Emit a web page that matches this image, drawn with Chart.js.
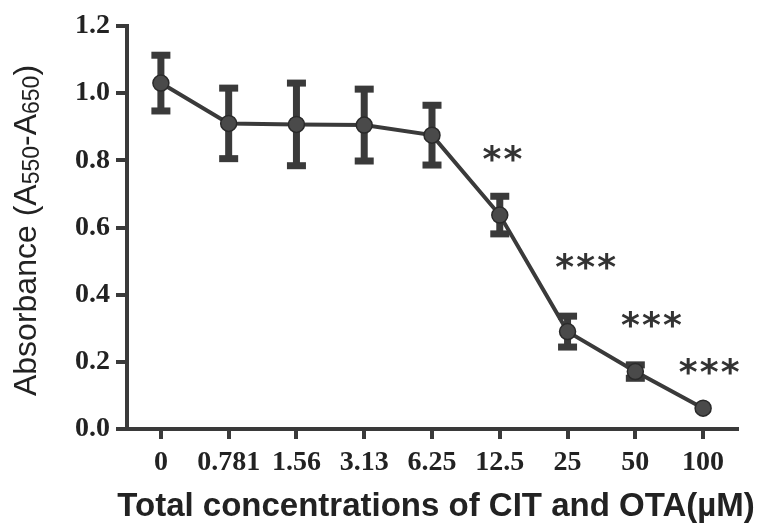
<!DOCTYPE html>
<html><head><meta charset="utf-8">
<script src="https://cdn.jsdelivr.net/npm/chart.js@4.4.0/dist/chart.umd.min.js"></script>
<style>html,body{margin:0;padding:0;background:#fff}#wrap{width:766px;height:526px;position:relative}</style>
</head><body><div id="wrap"><canvas id="c"></canvas></div>
<script>
const categories = ['0','0.781','1.56','3.13','6.25','12.5','25','50','100'];
const absorbance = [1.03, 0.91, 0.907, 0.905, 0.875, 0.637, 0.29, 0.171, 0.062];
const sd = [0.083, 0.105, 0.123, 0.107, 0.089, 0.056, 0.046, 0.02, 0];
const yTicks = [0, 0.2, 0.4, 0.6, 0.8, 1.0, 1.2];
const sigMarks = ['', '', '', '', '', '**', '***', '***', '***'];
const sigPosX = [0, 0, 0, 0, 0, 5.04, 6.27, 7.24, 8.09];
const sigPosY = [0, 0, 0, 0, 0, 0.82, 0.50, 0.325, 0.185];
const xTitle = 'Total concentrations of CIT and OTA(\u00B5M)';
const yTitleParts = [['Absorbance (A', false], ['550', true], ['-A', false], ['650', true], [')', false]];

const INK = '#3a3a3a';

const errorBars = {
  id: 'errorBars',
  beforeDatasetsDraw(chart) {
    const ctx = chart.ctx, y = chart.scales.y;
    const meta = chart.getDatasetMeta(0);
    ctx.save();
    ctx.fillStyle = INK;
    meta.data.forEach((pt, i) => {
      if (!sd[i]) return;
      const top = y.getPixelForValue(absorbance[i] + sd[i]);
      const bot = y.getPixelForValue(absorbance[i] - sd[i]);
      const x = pt.x;
      ctx.fillRect(x - 3.5, top, 7, bot - top);
      ctx.fillRect(x - 9.5, top - 3.5, 19, 7);
      ctx.fillRect(x - 9.5, bot - 3.5, 19, 7);
    });
    ctx.restore();
  }
};

const annotations = {
  id: 'annotations',
  afterDraw(chart) {
    const ctx = chart.ctx, xs = chart.scales.x, ys = chart.scales.y, ca = chart.chartArea;
    ctx.save();
    ctx.fillStyle = '#333';
    ctx.font = 'bold 36px "DejaVu Sans"';
    ctx.textAlign = 'left';
    ctx.textBaseline = 'alphabetic';
    const m = ctx.measureText('*');
    const cy = (m.actualBoundingBoxAscent - m.actualBoundingBoxDescent) / 2;
    const halfW = (m.actualBoundingBoxRight + m.actualBoundingBoxLeft) / 2;
    sigMarks.forEach((s, i) => {
      if (!s) return;
      const px = xs.getPixelForValue(sigPosX[i]);
      const py = ys.getPixelForValue(sigPosY[i]);
      const n = s.length, gap = 21;
      for (let k = 0; k < n; k++) {
        const sx = px + (k - (n - 1) / 2) * gap;
        ctx.fillText('*', sx - halfW + m.actualBoundingBoxLeft, py + cy);
      }
    });
    ctx.fillStyle = '#222';
    ctx.font = 'bold 33px "Liberation Sans"';
    ctx.textAlign = 'center';
    ctx.textBaseline = 'alphabetic';
    ctx.fillText(xTitle, (ca.left + ca.right) / 2 + 4, 516);
    ctx.translate(36, (ca.top + ca.bottom) / 2 + 3);
    ctx.rotate(-Math.PI / 2);
    const big = '32px "Liberation Sans"', small = '23px "Liberation Sans"';
    let total = 0;
    yTitleParts.forEach(([t, sub]) => { ctx.font = sub ? small : big; total += ctx.measureText(t).width; });
    let pos = -total / 2;
    ctx.textAlign = 'left';
    yTitleParts.forEach(([t, sub]) => {
      ctx.font = sub ? small : big;
      ctx.fillText(t, pos, sub ? 3 : 0);
      pos += ctx.measureText(t).width;
    });
    ctx.restore();
  }
};

const tickFont = { family: '"Liberation Serif"', weight: 'bold', size: 28 };

new Chart(document.getElementById('c'), {
  type: 'line',
  data: {
    labels: categories,
    datasets: [{
      data: absorbance,
      borderColor: INK,
      borderWidth: 4,
      backgroundColor: '#4a4a4a',
      pointBackgroundColor: '#4a4a4a',
      pointBorderColor: '#2a2a2a',
      pointBorderWidth: 1.5,
      pointRadius: 8,
      pointHoverRadius: 8,
      tension: 0,
      fill: false
    }]
  },
  options: {
    responsive: true,
    maintainAspectRatio: false,
    devicePixelRatio: 1,
    animation: false,
    events: [],
    layout: { padding: { top: 26, right: 29, left: 0, bottom: 0 } },
    plugins: { legend: { display: false }, tooltip: { enabled: false } },
    scales: {
      x: {
        type: 'category',
        offset: true,
        grid: { display: true, drawOnChartArea: false, drawTicks: true, tickLength: 10, lineWidth: 4, color: INK, offset: false },
        border: { display: true, width: 4, color: INK },
        ticks: { font: tickFont, color: '#222', padding: 7, maxRotation: 0, minRotation: 0, autoSkip: false },
        afterFit(s) { s.height = 97; }
      },
      y: {
        min: 0, max: 1.2,
        afterBuildTicks(s) { s.ticks = yTicks.map(v => ({ value: v })); },
        grid: { display: true, drawOnChartArea: false, drawTicks: true, tickLength: 11, lineWidth: 4, color: INK },
        border: { display: true, width: 4, color: INK },
        ticks: { font: tickFont, color: '#222', padding: 6, callback: v => Number(v).toFixed(1) },
        afterFit(s) { s.width = 127; }
      }
    }
  },
  plugins: [errorBars, annotations]
});
</script>
</body></html>
